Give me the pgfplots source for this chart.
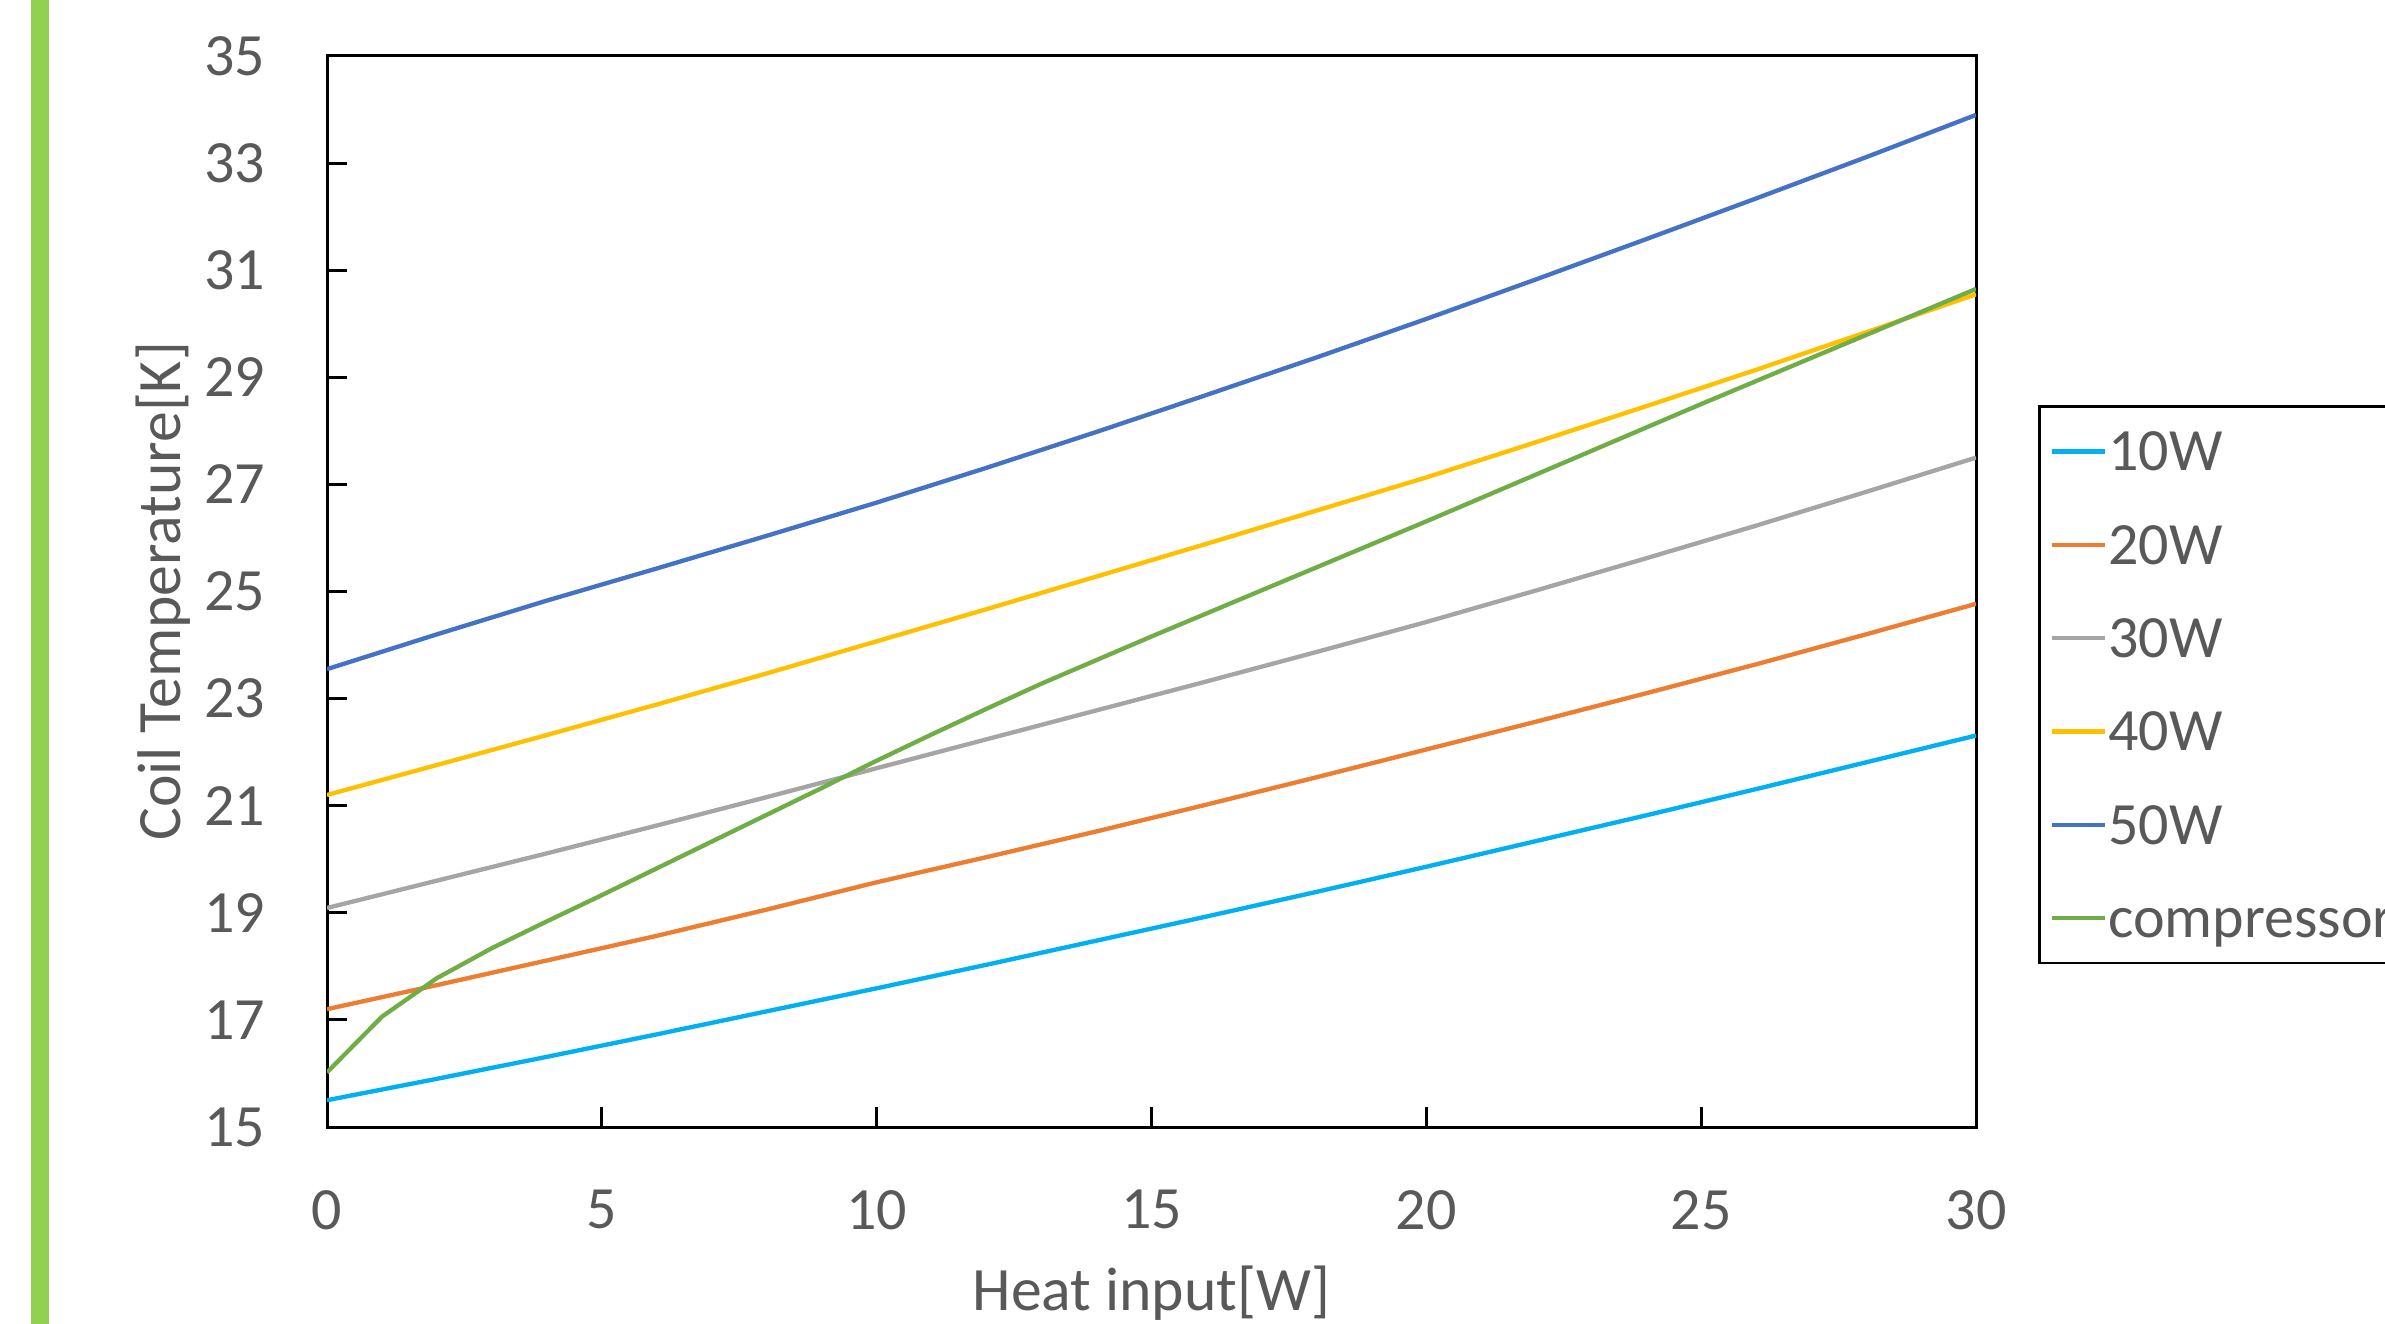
\documentclass[border=0pt]{standalone}
\usepackage{fontspec}
\setmainfont{Carlito}
\usepackage{pgfplots}
\pgfplotsset{compat=1.18}
\definecolor{cA}{HTML}{00B0F0}
\definecolor{cB}{HTML}{ED7D31}
\definecolor{cC}{HTML}{A5A5A5}
\definecolor{cD}{HTML}{FFC000}
\definecolor{cE}{HTML}{4472C4}
\definecolor{cF}{HTML}{70AD47}
\definecolor{txt}{HTML}{595959}
\definecolor{barg}{HTML}{92D050}
\begin{document}
\begin{tikzpicture}
\useasboundingbox (0,0) rectangle (715.5bp,397.2bp);
\clip (0,0) rectangle (715.5bp,397.2bp);
\fill[barg] (9.2bp,0) rectangle (14.8bp,397.2bp);
\begin{axis}[
  at={(98.1bp,59.1bp)}, anchor=south west,
  scale only axis, width=494.7bp, height=321.3bp,
  xmin=0, xmax=30, ymin=15, ymax=35,
  xtick={0,5,...,30}, ytick={15,17,...,35},
  xtick pos=bottom, ytick pos=left, tick align=inside,
  major tick length=6bp,
  axis line style={black, line width=0.9bp},
  tick style={black, line width=0.9bp},
  /pgf/number format/assume math mode=true,
  ticklabel style={font=\fontsize{18bp}{20bp}\selectfont, text=txt, inner sep=0pt},
  xticklabel shift=18.8bp, yticklabel shift=18.3bp,
  xlabel={Heat input[W]}, ylabel={Coil Temperature[K]},
  label style={font=\fontsize{18.5bp}{20bp}\selectfont, text=txt},
  xlabel style={at={(axis description cs:0.5,-0.1712)}, anchor=base},
  ylabel style={at={(axis description cs:-0.0891,0.5)}, anchor=base},
  legend cell align=left,
  legend style={at={(axis description cs:1.0376,0.6741)}, anchor=north west,
    draw=black, line width=0.8bp, fill=white,
    inner xsep=3.0bp, inner ysep=5.7bp, row sep=12.4bp, column sep=0.4bp,
    font=\fontsize{18bp}{20bp}\selectfont, text=txt,
    nodes={inner sep=0pt, text height=13.6bp, text depth=2bp}},
  legend image code/.code={\draw[#1] (0bp,0bp) -- (16bp,0bp);},
  every axis plot/.append style={line width=1.3bp},
]
\addplot[cA] coordinates {(0,15.50)(2,15.90)(4,16.31)(6,16.73)(8,17.16)(10,17.59)(12,18.03)(14,18.48)(16,18.93)(18,19.39)(20,19.86)(22,20.34)(24,20.82)(26,21.31)(28,21.81)(30,22.31)};
\addlegendentry{10W}
\addplot[cB] coordinates {(0,17.20)(2,17.65)(4,18.11)(6,18.57)(8,19.06)(10,19.57)(12,20.04)(14,20.52)(16,21.02)(18,21.53)(20,22.05)(22,22.57)(24,23.10)(26,23.64)(28,24.20)(30,24.77)};
\addlegendentry{20W}
\addplot[cC] coordinates {(0,19.09)(2,19.60)(4,20.11)(6,20.63)(8,21.16)(10,21.70)(12,22.24)(14,22.78)(16,23.32)(18,23.87)(20,24.43)(22,25.02)(24,25.62)(26,26.23)(28,26.86)(30,27.50)};
\addlegendentry{30W}
\addplot[cD] coordinates {(0,21.20)(2,21.76)(4,22.32)(6,22.89)(8,23.47)(10,24.07)(12,24.67)(14,25.28)(16,25.89)(18,26.51)(20,27.13)(22,27.79)(24,28.46)(26,29.14)(28,29.84)(30,30.55)};
\addlegendentry{40W}
\addplot[cE] coordinates {(0,23.55)(2,24.20)(4,24.83)(6,25.43)(8,26.04)(10,26.66)(12,27.31)(14,27.98)(16,28.67)(18,29.37)(20,30.09)(22,30.83)(24,31.58)(26,32.34)(28,33.11)(30,33.90)};
\addlegendentry{50W}
\addplot[cF] coordinates {(0,16.02)(1,17.06)(2,17.78)(3,18.34)(4,18.84)(5,19.33)(6,19.83)(7,20.33)(8,20.83)(9,21.33)(10,21.84)(11,22.33)(12,22.81)(13,23.28)(14,23.72)(15,24.16)(16,24.59)(17,25.02)(18,25.45)(19,25.88)(20,26.31)(25,28.50)(30,30.65)};
\addlegendentry{compressor}
\end{axis}
\end{tikzpicture}
\end{document}
